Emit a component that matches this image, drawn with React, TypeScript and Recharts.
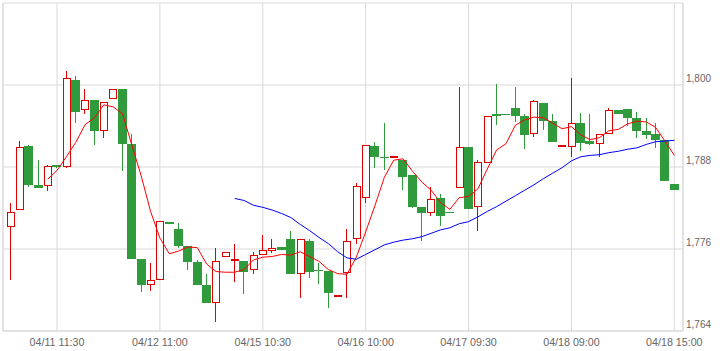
import { ComposedChart, Bar, Line, XAxis, YAxis, CartesianGrid } from 'recharts'

const DATES = ['04/11', '04/12', '04/15', '04/16', '04/17', '04/18']
const TIMES = ['09:00', '09:30', '10:00', '10:30', '11:00', '11:30', '12:30', '13:00', '13:30', '14:00', '14:30', '15:00']
const X_TICKS = ['04/11 11:30', '04/12 11:00', '04/15 10:30', '04/16 10:00', '04/17 09:30', '04/18 09:00', '04/18 15:00']
const Y_TICKS = [1764, 1776, 1788, 1800, 1812]
const Y_DOMAIN = [1764, 1812]

const OPEN = [
  1779.2, 1781.7, 1791.1, 1785.4, 1785.2, 1788.3, 1788.0, 1800.7, 1796.3, 1797.8, 1793.2, 1798.0,
  1799.4, 1791.3, 1774.6, 1770.7, 1771.4, 1779.9, 1778.9, 1776.4, 1774.1, 1770.7, 1768.1, 1774.8,
  1774.2, 1774.2, 1773.0, 1775.1, 1775.7, 1776.3, 1777.5, 1772.4, 1777.2, 1772.9, 1772.8, 1769.2,
  1772.5, 1777.4, 1783.5, 1791.1, 1789.5, 1789.3, 1789.0, 1786.9, 1782.1, 1781.2, 1783.5, 1781.4,
  1784.9, 1790.9, 1782.1, 1788.6, 1795.7, 1795.8, 1796.7, 1795.4, 1792.8, 1797.4, 1794.7, 1791.0,
  1790.9, 1794.5, 1791.8, 1791.3, 1792.9, 1796.3, 1796.5, 1795.1, 1793.3, 1792.8, 1792.0, 1785.5,
]
const HIGH = [
  1782.7, 1791.8, 1791.2, 1789.0, 1788.3, 1788.3, 1802.0, 1801.3, 1799.4, 1797.8, 1797.5, 1799.4,
  1799.4, 1792.8, 1774.6, 1774.0, 1780.1, 1779.9, 1779.8, 1776.4, 1774.4, 1772.3, 1776.2, 1775.6,
  1776.7, 1774.2, 1775.5, 1778.1, 1777.5, 1776.3, 1778.6, 1777.4, 1777.4, 1774.0, 1772.8, 1769.3,
  1778.9, 1785.7, 1791.2, 1791.6, 1794.4, 1789.6, 1789.0, 1786.9, 1782.1, 1785.1, 1784.0, 1781.4,
  1799.7, 1790.9, 1789.0, 1795.4, 1800.2, 1795.8, 1799.7, 1795.7, 1797.8, 1797.4, 1795.7, 1791.2,
  1801.0, 1795.9, 1795.7, 1792.9, 1796.6, 1796.3, 1796.5, 1796.1, 1795.1, 1794.4, 1792.0, 1785.5,
]
const LOW = [
  1771.4, 1781.7, 1785.1, 1785.0, 1784.5, 1787.9, 1787.9, 1794.4, 1795.8, 1791.2, 1792.3, 1798.0,
  1787.4, 1774.6, 1769.7, 1769.9, 1771.4, 1779.6, 1776.1, 1773.0, 1770.7, 1768.1, 1765.3, 1774.8,
  1771.2, 1769.4, 1772.3, 1775.1, 1775.4, 1775.9, 1772.4, 1768.9, 1771.8, 1770.9, 1767.4, 1769.2,
  1768.8, 1776.8, 1782.7, 1787.8, 1787.6, 1789.3, 1784.6, 1782.0, 1777.2, 1780.9, 1779.4, 1781.3,
  1784.9, 1781.9, 1778.7, 1788.6, 1794.2, 1795.6, 1794.6, 1790.7, 1792.4, 1793.4, 1791.7, 1791.0,
  1789.4, 1790.4, 1791.2, 1789.5, 1792.9, 1795.7, 1794.0, 1792.2, 1792.1, 1790.8, 1785.9, 1784.7,
]
const CLOSE = [
  1781.4, 1790.9, 1785.4, 1785.0, 1788.1, 1788.0, 1801.0, 1796.1, 1797.8, 1793.2, 1797.5, 1799.4,
  1791.3, 1774.6, 1770.7, 1771.4, 1780.1, 1779.6, 1776.5, 1774.1, 1770.7, 1768.1, 1774.3, 1775.6,
  1774.5, 1772.7, 1775.1, 1775.9, 1776.2, 1775.9, 1772.4, 1777.4, 1772.7, 1772.8, 1769.6, 1769.3,
  1777.1, 1785.2, 1791.2, 1789.4, 1789.4, 1789.6, 1786.6, 1782.2, 1781.2, 1783.3, 1780.9, 1781.3,
  1791.0, 1781.9, 1788.7, 1795.4, 1795.4, 1795.6, 1795.4, 1792.7, 1797.6, 1794.7, 1791.7, 1791.2,
  1794.5, 1791.5, 1791.3, 1792.9, 1796.3, 1795.7, 1795.2, 1793.3, 1792.7, 1792.0, 1785.9, 1784.7,
]
// short moving average (red)
const MA_SHORT = [
  null, null, null, null, 1786.2, 1787.5, 1789.5, 1791.6, 1794.2, 1795.2, 1797.1, 1796.8,
  1795.8, 1791.2, 1786.7, 1781.5, 1777.6, 1775.3, 1775.7, 1776.3, 1776.2, 1773.8, 1772.7, 1772.6,
  1772.6, 1773.0, 1774.4, 1774.8, 1774.9, 1775.2, 1775.1, 1775.6, 1774.9, 1774.2, 1773.0, 1772.4,
  1772.3, 1774.8, 1778.5, 1782.4, 1786.5, 1789.0, 1789.2, 1787.4, 1785.8, 1784.6, 1782.8, 1781.8,
  1783.5, 1783.7, 1784.8, 1787.7, 1790.5, 1791.4, 1794.1, 1794.9, 1795.3, 1795.2, 1794.4, 1793.6,
  1793.9, 1792.7, 1792.0, 1792.3, 1793.3, 1793.5, 1794.3, 1794.7, 1794.6, 1793.8, 1791.8, 1789.7,
]
// long moving average (blue)
const MA_LONG = [
  null, null, null, null, null, null, null, null, null, null, null, null,
  null, null, null, null, null, null, null, null, null, null, null, null,
  1783.4, 1783.1, 1782.4, 1782.1, 1781.7, 1781.2, 1780.6, 1779.6, 1778.7, 1777.7, 1776.8, 1775.6,
  1774.7, 1774.5, 1775.2, 1775.9, 1776.6, 1777.0, 1777.3, 1777.5, 1777.8, 1778.3, 1778.8, 1779.1,
  1779.7, 1780.0, 1780.7, 1781.5, 1782.2, 1783.0, 1783.8, 1784.6, 1785.4, 1786.3, 1787.1, 1787.9,
  1788.9, 1789.5, 1789.7, 1789.8, 1790.1, 1790.3, 1790.6, 1790.8, 1791.3, 1791.7, 1791.8, 1791.9,
]

const LABELS = DATES.flatMap(d => TIMES.map(t => `${d} ${t}`))

const data = LABELS.map((label, i) => ({
  label,
  open: OPEN[i],
  high: HIGH[i],
  low: LOW[i],
  close: CLOSE[i],
  maShort: MA_SHORT[i],
  maLong: MA_LONG[i],
}))

const UP = '#e00000'
const DOWN = '#2f9b3c'
const GRID = '#d9d9d9'
const FONT = '"Liberation Sans", Arial, sans-serif'

function Candle(props: any) {
  const { x, y, height, payload } = props
  const { open, high, low, close } = payload
  const k = height / (high - low)
  const py = (v: number) => Math.round(y + (high - v) * k)
  const left = Math.round(x)
  const cx = left + 4.5
  const top = py(Math.max(open, close))
  const bot = py(Math.min(open, close))
  const hi = py(high)
  const lo = py(low)

  if (close >= open) {
    return (
      <g>
        {hi < top && <line x1={cx} x2={cx} y1={hi} y2={top} stroke={UP} strokeWidth={1} />}
        {lo > bot && <line x1={cx} x2={cx} y1={bot} y2={lo} stroke={UP} strokeWidth={1} />}
        <rect x={left + 1.5} y={top + 0.5} width={7} height={Math.max(bot - top - 1, 1)} fill="#fff" stroke={UP} strokeWidth={1} />
      </g>
    )
  }
  return (
    <g>
      <line x1={cx} x2={cx} y1={hi} y2={lo} stroke={DOWN} strokeWidth={1} />
      <rect x={left} y={top} width={9} height={Math.max(bot - top, 1)} fill={DOWN} />
    </g>
  )
}

const XTick = ({ x, y, payload }: any) => (
  <text x={x} y={y + 13} textAnchor="middle" fill="#666" fontSize={10.7} fontFamily={FONT}>
    {payload.value}
  </text>
)

const YTick = ({ x, y, payload }: any) => {
  if (payload.value >= Y_DOMAIN[1]) return <g />
  return (
    <text x={x} y={y - 3} textAnchor="start" fill="#666" fontSize={10} fontFamily={FONT}>
      {Number(payload.value).toLocaleString('en-US')}
    </text>
  )
}

export default function App() {
  return (
    <div style={{ position: 'absolute', left: 0, top: 0, width: 722, height: 351, background: '#fff' }}>
      <ComposedChart width={722} height={351} data={data} margin={{ top: 3, right: 0, bottom: 0, left: 0 }}>
        <CartesianGrid stroke={GRID} />
        <XAxis
          dataKey="label"
          ticks={X_TICKS}
          interval={0}
          height={20}
          padding={{ left: 2.6, right: 4 }}
          tickLine={false}
          tickSize={0}
          axisLine={{ stroke: GRID }}
          tick={<XTick />}
        />
        <YAxis
          orientation="right"
          domain={Y_DOMAIN}
          ticks={Y_TICKS}
          width={39}
          tickLine={false}
          tickSize={0}
          tickMargin={3}
          axisLine={{ stroke: GRID }}
          tick={<YTick />}
        />
        <YAxis yAxisId="frame" orientation="left" width={3} domain={[0, 1]} tick={false} tickLine={false} axisLine={{ stroke: GRID }} />
        <Bar dataKey={(d: any) => [d.low, d.high]} barSize={9} shape={<Candle />} isAnimationActive={false} />
        <Line type="linear" dataKey="maShort" stroke="#ff0000" strokeWidth={1} dot={false} activeDot={false} isAnimationActive={false} />
        <Line type="linear" dataKey="maLong" stroke="#0000ff" strokeWidth={1} dot={false} activeDot={false} isAnimationActive={false} />
      </ComposedChart>
    </div>
  )
}
